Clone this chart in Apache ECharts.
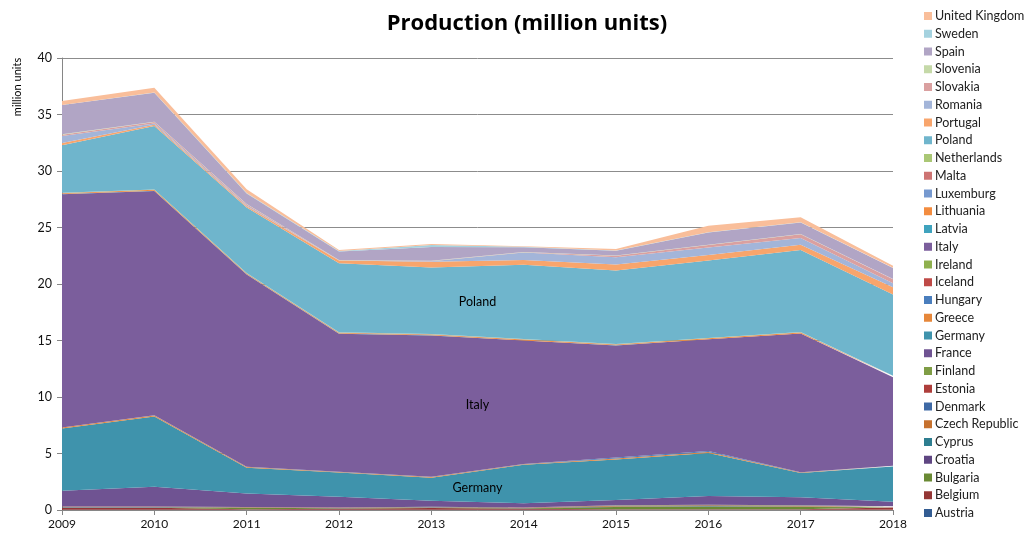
<!DOCTYPE html>
<html>
<head>
<meta charset="utf-8">
<script src="https://cdn.jsdelivr.net/npm/echarts@6/dist/echarts.min.js"></script>
<style>html,body{margin:0;padding:0;background:#fff;}#c{width:1035px;height:538px;}</style>
</head>
<body>
<div id="c"></div>
<script>
var years = ['2009','2010','2011','2012','2013','2014','2015','2016','2017','2018'];
var yTicks = [0,5,10,15,20,25,30,35,40];

var Austria        = [0.02,0.02,0.02,0.02,0.02,0.02,0.02,0.02,0.02,0.02];
var Belgium        = [0.18,0.18,0.05,0.10,0.15,0.10,0.05,0.05,0.05,0.20];
var Bulgaria       = [0.03,0.03,0.12,0.03,0.03,0.03,0.20,0.25,0.20,0.03];
var Croatia        = [0.02,0.02,0.02,0.02,0.02,0.02,0.02,0.02,0.02,0.02];
var Cyprus         = [0.01,0.01,0.01,0.01,0.01,0.01,0.01,0.01,0.01,0.01];
var CzechRepublic  = [0.02,0.02,0.02,0.02,0.02,0.02,0.08,0.08,0.08,0.02];
var Denmark        = [0.01,0.01,0.01,0.01,0.01,0.01,0.01,0.01,0.01,0.01];
var Estonia        = [0.01,0.01,0.01,0.01,0.01,0.01,0.01,0.01,0.01,0.01];
var Finland        = [0.01,0.01,0.01,0.01,0.01,0.01,0.02,0.02,0.02,0.01];
var France         = [1.39,1.75,1.20,0.95,0.54,0.36,0.46,0.77,0.70,0.40];
var Germany        = [5.51,6.21,2.26,2.14,2.03,3.41,3.59,3.81,2.15,3.12];
var Greece         = [0.08,0.10,0.08,0.05,0.08,0.05,0.08,0.08,0.05,0.05];
var Hungary        = [0.01,0.01,0.01,0.01,0.01,0.01,0.10,0.10,0.01,0.01];
var Iceland        = [0,0,0,0,0,0,0,0,0,0];
var Ireland        = [0,0,0,0,0,0,0,0,0,0];
var Italy          = [20.65,19.86,17.03,12.22,12.51,10.94,9.91,9.87,12.29,7.83];
var Latvia         = [0.01,0.01,0.01,0.01,0.01,0.01,0.01,0.01,0.01,0.01];
var Lithuania      = [0.08,0.08,0.08,0.08,0.08,0.08,0.08,0.08,0.08,0.08];
var Luxemburg      = [0.01,0.01,0.01,0.01,0.01,0.01,0.01,0.01,0.01,0.01];
var Malta          = [0.01,0.01,0.01,0.01,0.01,0.01,0.01,0.01,0.01,0.01];
var Netherlands    = [0.02,0.02,0.02,0.02,0.02,0.02,0.02,0.02,0.02,0.02];
var Poland         = [4.19,5.61,5.79,6.10,5.89,6.58,6.51,6.84,7.25,7.19];
var Portugal       = [0.20,0.12,0.10,0.25,0.50,0.42,0.53,0.50,0.48,0.65];
var Romania        = [0.62,0.10,0.08,0.01,0.05,0.65,0.63,0.67,0.59,0.36];
var Slovakia       = [0.12,0.14,0.10,0.02,0.02,0.03,0.14,0.22,0.33,0.36];
var Slovenia       = [0.04,0.02,0.02,0.02,0.02,0.02,0.02,0.02,0.02,0.02];
var Spain          = [2.58,2.56,0.93,0.75,1.22,0.42,0.43,1.08,1.03,0.97];
var Sweden         = [0.02,0.02,0.05,0.05,0.18,0.05,0.02,0.02,0.02,0.02];
var UnitedKingdom  = [0.34,0.42,0.34,0.07,0.07,0.05,0.13,0.57,0.43,0.18];

var seriesNames = ['Austria','Belgium','Bulgaria','Croatia','Cyprus','Czech Republic','Denmark','Estonia','Finland','France','Germany','Greece','Hungary','Iceland','Ireland','Italy','Latvia','Lithuania','Luxemburg','Malta','Netherlands','Poland','Portugal','Romania','Slovakia','Slovenia','Spain','Sweden','United Kingdom'];
var seriesValues = [Austria,Belgium,Bulgaria,Croatia,Cyprus,CzechRepublic,Denmark,Estonia,Finland,France,Germany,Greece,Hungary,Iceland,Ireland,Italy,Latvia,Lithuania,Luxemburg,Malta,Netherlands,Poland,Portugal,Romania,Slovakia,Slovenia,Spain,Sweden,UnitedKingdom];
var seriesColors = ['#335C92','#943635','#6A8A34','#5F4682','#2E7E90','#C6712E','#3E69A5','#AE3E3B','#7F9D45','#6F5392','#3F93AC','#E6873A','#4A7EBD','#BF4A47','#8FB04E','#7B5E9C','#3FA3BE','#F38C3F','#7699CF','#CD7473','#AAC775','#6FB5CC','#F8A56C','#A3B5D9','#DAA0A0','#C5D9A8','#B1A5C5','#A5D2DF','#F9BE9A'];
var labeled = {'Germany':true,'Italy':true,'Poland':true};

var FONT = 'Lato, "Open Sans", sans-serif';
var chart = echarts.init(document.getElementById('c'));

var series = seriesNames.map(function(n,i){
  return {
    name: n, type: 'line', stack: 'total', data: seriesValues[i],
    symbol: 'none', showSymbol: false, smooth: false,
    lineStyle: {width: 0, color: seriesColors[i]},
    itemStyle: {color: seriesColors[i]},
    areaStyle: {color: seriesColors[i], opacity: 1},
    emphasis: {disabled: true},
    animation: false
  };
});

chart.setOption({
  animation: false,
  backgroundColor: '#fff',
  title: {
    text: 'Production (million units)', left: 522, top: 8, textAlign: 'center',
    textStyle: {fontFamily: '"Open Sans", Lato, sans-serif', fontSize: 22, fontWeight: 'bold', color: '#000'}
  },
  legend: {
    orient: 'vertical', left: 919, top: 4,
    data: seriesNames.slice().reverse(),
    icon: 'rect', itemWidth: 8, itemHeight: 8, itemGap: 3.75,
    selectedMode: false,
    textStyle: {fontFamily: FONT, fontSize: 12.5, color: '#222', lineHeight: 14, padding: [0,0,0,-2]}
  },
  grid: {left: 62, right: 142, top: 58, bottom: 28, containLabel: false},
  xAxis: {
    type: 'category', data: years, boundaryGap: false,
    axisLine: {lineStyle: {color: '#868686'}},
    axisTick: {show: true, alignWithLabel: true, length: 5, lineStyle: {color: '#868686'}},
    axisLabel: {fontFamily: FONT, fontSize: 12, color: '#111', margin: 8},
    splitLine: {show: false}
  },
  yAxis: {
    type: 'value', min: yTicks[0], max: yTicks[yTicks.length-1], interval: 5,
    axisLine: {show: true, lineStyle: {color: '#868686'}},
    axisTick: {show: true, length: 5, lineStyle: {color: '#868686'}},
    axisLabel: {fontFamily: FONT, fontSize: 12.5, color: '#111', margin: 10},
    splitLine: {lineStyle: {color: '#8c8c8c', width: 1}}
  },
  series: series
});

// series labels at centre of the middle segment of each labelled band
var mid = Math.floor((years.length - 1) / 2);
var graphics = [{
  type: 'text', x: 17, y: 87, rotation: Math.PI / 2,
  style: {text: 'million units', fontFamily: FONT, fontSize: 11, fill: '#000', align: 'center', verticalAlign: 'middle'}
}];
var cum = years.map(function(){ return 0; });
seriesNames.forEach(function(n, i){
  var lo = cum.slice();
  for (var k = 0; k < years.length; k++) cum[k] += seriesValues[i][k];
  if (labeled[n]) {
    var vMid = ((lo[mid] + cum[mid]) / 2 + (lo[mid+1] + cum[mid+1]) / 2) / 2;
    var x1 = chart.convertToPixel({xAxisIndex: 0}, years[mid]);
    var x2 = chart.convertToPixel({xAxisIndex: 0}, years[mid + 1]);
    var yy = chart.convertToPixel({yAxisIndex: 0}, vMid);
    graphics.push({
      type: 'text', x: (x1 + x2) / 2, y: yy + 1, z: 100,
      style: {text: n, fontFamily: FONT, fontSize: 12.5, fill: '#000', align: 'center', verticalAlign: 'middle'}
    });
  }
});
chart.setOption({graphic: graphics});
</script>
</body>
</html>
